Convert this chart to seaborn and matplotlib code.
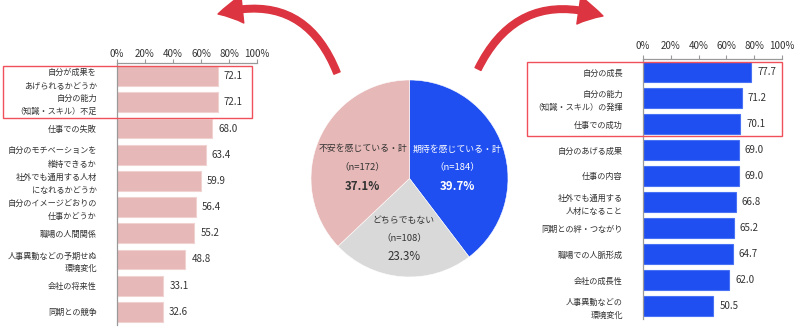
import matplotlib
matplotlib.use('Agg')
import matplotlib.pyplot as plt
import seaborn as sns
import pandas as pd
from matplotlib.patches import Rectangle, FancyArrowPatch

sns.set_style('white')
plt.rcParams['font.family'] = ['Noto Sans CJK JP', 'DejaVu Sans']

# ---------------- data ----------------
anxiety_labels = ['自分が成果を\nあげられるかどうか', '自分の能力\n（知識・スキル）不足', '仕事での失敗',
                  '自分のモチベーションを\n維持できるか', '社外でも通用する人材\nになれるかどうか',
                  '自分のイメージどおりの\n仕事かどうか', '職場の人間関係',
                  '人事異動などの予期せぬ\n環境変化', '会社の将来性', '同期との競争']
anxiety_values = [72.1, 72.1, 68.0, 63.4, 59.9, 56.4, 55.2, 48.8, 33.1, 32.6]

expect_labels = ['自分の成長', '自分の能力\n（知識・スキル）の発揮', '仕事での成功', '自分のあげる成果',
                 '仕事の内容', '社外でも通用する\n人材になること', '同期との絆・つながり',
                 '職場での人脈形成', '会社の成長性', '人事異動などの\n環境変化']
expect_values = [77.7, 71.2, 70.1, 69.0, 69.0, 66.8, 65.2, 64.7, 62.0, 50.5]

pie_labels = ['期待を感じている・計', 'どちらでもない', '不安を感じている・計']
pie_n = [184, 108, 172]
pie_pct = [39.7, 23.3, 37.1]

tick_values = [0, 20, 40, 60, 80, 100]
tick_labels = ['0%', '20%', '40%', '60%', '80%', '100%']

PINK = '#e6b8b7'
BLUE = '#1f4ff0'
GREY = '#d9d9d9'
RED = '#f0505a'
TXT = '#333333'

W, H = 800, 330
fig = plt.figure(figsize=(8, 3.3), dpi=100)


def fx(x):
    return x / W


def fy(y):
    return 1 - y / H


def bar_panel(x0, top, w, h, labels, values, color, edge, tick_pad):
    ax = fig.add_axes([fx(x0), fy(top + h), w / W, h / H])
    df = pd.DataFrame({'item': labels, 'value': values})
    sns.barplot(data=df, x='value', y='item', orient='h', color=color, width=0.75,
                saturation=1, edgecolor=edge, linewidth=0.8, ax=ax)
    ax.set_xlim(0, 100)
    ax.set_ylim(len(labels) - 0.5, -0.5)
    ax.set_xlabel('')
    ax.set_ylabel('')
    ax.xaxis.tick_top()
    ax.set_xticks(tick_values)
    ax.set_xticklabels(tick_labels)
    ax.tick_params(axis='x', top=True, bottom=False, labeltop=True, labelbottom=False,
                   length=3, width=0.8, direction='out', color='#999999',
                   labelsize=7, labelcolor=TXT, pad=tick_pad)
    ax.tick_params(axis='y', left=False, labelsize=5.9, labelcolor=TXT, pad=11)
    for lab in ax.get_yticklabels():
        lab.set_linespacing(1.55)
    for s in ['right', 'bottom']:
        ax.spines[s].set_visible(False)
    for s in ['top', 'left']:
        ax.spines[s].set_color('#999999')
        ax.spines[s].set_linewidth(0.9)
    for i, v in enumerate(values):
        ax.annotate(f'{v:.1f}', xy=(v, i), xytext=(6, 0), textcoords='offset pixels',
                    va='center', ha='left', fontsize=7, color=TXT)
    ax.grid(False)
    return ax


bar_panel(117, 63, 140, 262, anxiety_labels, anxiety_values, PINK, '#f0d2d1', 0.0)
bar_panel(643, 59, 139, 260, expect_labels, expect_values, BLUE, '#4a72f5', 2.8)

# ---------------- pie ----------------
cx, cy, r = 409.5, 178.5, 98.5
pax = fig.add_axes([fx(cx - r), fy(cy + r), 2 * r / W, 2 * r / H])
pax.pie(pie_pct, colors=[BLUE, GREY, PINK], startangle=90, counterclock=False,
        wedgeprops=dict(edgecolor='white', linewidth=0.4))
pax.set_xlim(-1, 1)
pax.set_ylim(-1, 1)
pax.set_aspect('equal', adjustable='box')
pax.axis('off')

label_pos = [(457, 'white'), (404, TXT), (362.5, TXT)]
label_y = [(149, 167, 186), (220, 238, 256), (149, 167, 186)]
for k in range(3):
    x, col = label_pos[k]
    y1, y2, y3 = label_y[k]
    fig.text(fx(x), fy(y1), pie_labels[k], ha='center', va='center', fontsize=6.4, color=col)
    fig.text(fx(x), fy(y2), f'（n={pie_n[k]}）', ha='center', va='center', fontsize=6.8, color=col)
    bold = 'bold' if k != 1 else 'normal'
    fig.text(fx(x), fy(y3), f'{pie_pct[k]:.1f}%', ha='center', va='center', fontsize=8.3,
             fontweight=bold, color=col)

# ---------------- highlight boxes ----------------
fig.patches.append(Rectangle((fx(3), fy(118)), (252 - 3) / W, (118 - 66) / H, fill=False,
                             edgecolor=RED, linewidth=1.0, transform=fig.transFigure))
fig.patches.append(Rectangle((fx(527), fy(136)), (782 - 527) / W, (136 - 62) / H, fill=False,
                             edgecolor=RED, linewidth=1.0, transform=fig.transFigure))

# ---------------- curved arrows ----------------
arr_style = 'simple,head_length=1.7,head_width=1.9,tail_width=0.45'
a1 = FancyArrowPatch((fx(337), fy(73)), (fx(218), fy(14)), connectionstyle='arc3,rad=0.45',
                     arrowstyle=arr_style, mutation_scale=10.5, color='#dc3440',
                     shrinkA=0, shrinkB=0, transform=fig.transFigure)
a2 = FancyArrowPatch((fx(478), fy(69)), (fx(603), fy(16)), connectionstyle='arc3,rad=-0.43',
                     arrowstyle=arr_style, mutation_scale=10.5, color='#dc3440',
                     shrinkA=0, shrinkB=0, transform=fig.transFigure)
fig.patches.append(a1)
fig.patches.append(a2)

fig.savefig('out.png', dpi=100, facecolor='white')
